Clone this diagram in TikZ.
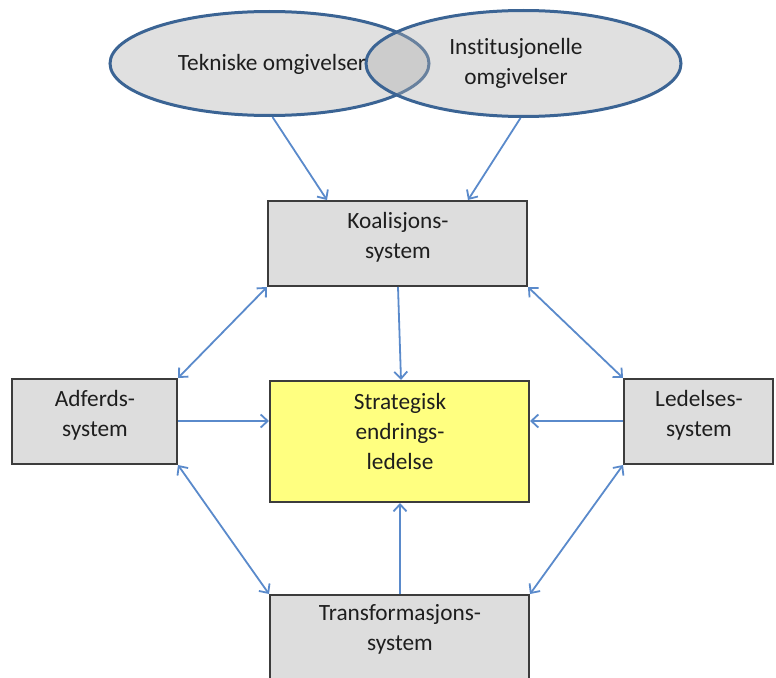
\documentclass[tikz,border=0pt]{standalone}
\usepackage{fontspec}
\setmainfont{Carlito}[Ligatures={NoCommon}]
\usetikzlibrary{arrows.meta,calc,shapes.geometric}
\definecolor{boxgray}{HTML}{DDDDDD}
\definecolor{boxline}{HTML}{3C3C3C}
\definecolor{ellline}{HTML}{3B6494}
\definecolor{ellfill}{HTML}{E0E0E0}
\definecolor{ovlfill}{RGB}{175,175,175}
\definecolor{arrowblue}{HTML}{5A8ACB}
\definecolor{stratyellow}{HTML}{FFFF80}
\definecolor{txtcol}{HTML}{1E1E1E}
\begin{document}
\begin{tikzpicture}[x=1pt,y=-1pt,
  box/.style={draw=boxline, line width=2pt, fill=boxgray, inner sep=0pt},
  ell/.style={ellipse, draw=ellline, line width=3pt, inner sep=0pt},
  lbl/.style={align=center, font=\fontsize{23.3}{30}\selectfont, text=txtcol, inner sep=0pt},
  arr/.style={draw=arrowblue, line width=1.8pt, -{Straight Barb[length=7pt,width=13pt]}},
  darr/.style={draw=arrowblue, line width=1.8pt, {Straight Barb[length=7pt,width=13pt]}-{Straight Barb[length=7pt,width=13pt]}}]
\useasboundingbox (0,0) rectangle (776,677);
\clip (0,0) rectangle (776,677);
% ellipses
\node[ell, fill=ellfill, minimum width=319pt, minimum height=104pt] (le) at (269.5,63.5) {};
\node[ell, fill=ovlfill, fill opacity=0.39, draw opacity=1, minimum width=315pt, minimum height=106pt] (re) at (523.5,63.5) {};
\node[lbl] (let) at (272,64) {Tekniske omgivelser};
\node[lbl] (ret) at (516,63) {Institusjonelle\\omgivelser};
% boxes
\node[box, minimum width=259pt, minimum height=85pt] (koal) at (397.5,243.5) {};
\node[box, minimum width=165pt, minimum height=85pt] (adf) at (94.5,421.5) {};
\node[box, minimum width=149pt, minimum height=85pt] (led) at (698.5,421.5) {};
\node[box, fill=stratyellow, minimum width=259pt, minimum height=121pt] (strat) at (399.5,441.5) {};
\node[box, minimum width=259pt, minimum height=105pt] (trans) at (399.5,647.5) {};
% labels
\node[lbl] (koalt) at (398,237) {Koalisjons-\\system};
\node[lbl] (adft) at (95,415) {Adferds-\\system};
\node[lbl] (ledt) at (699,415) {Ledelses-\\system};
\node[lbl] (stratt) at (400,431) {Strategisk\\endrings-\\ledelse};
\node[lbl] (transt) at (400,629) {Transformasjons-\\system};
% connectors
\draw[arr] ([xshift=3pt]le.south) -- ([xshift=60pt]koal.north west);
\draw[arr] ([xshift=-3pt]re.south) -- ([xshift=-60pt]koal.north east);
\draw[arr] ([xshift=0.5pt]koal.south) -- ([xshift=1.5pt]strat.north);
\draw[darr] (koal.south west) -- (adf.north east);
\draw[darr] (koal.south east) -- (led.north west);
\draw[darr] (adf.south east) -- (trans.north west);
\draw[darr] (led.south west) -- (trans.north east);
\draw[arr] ([yshift=0.5pt]adf.east) -- ([yshift=0.5pt]adf.east -| strat.west);
\draw[arr] ([yshift=0.5pt]led.west) -- ([yshift=0.5pt]led.west -| strat.east);
\draw[arr] ([xshift=0.5pt]trans.north) -- ([xshift=0.5pt]strat.south);
\end{tikzpicture}
\end{document}
